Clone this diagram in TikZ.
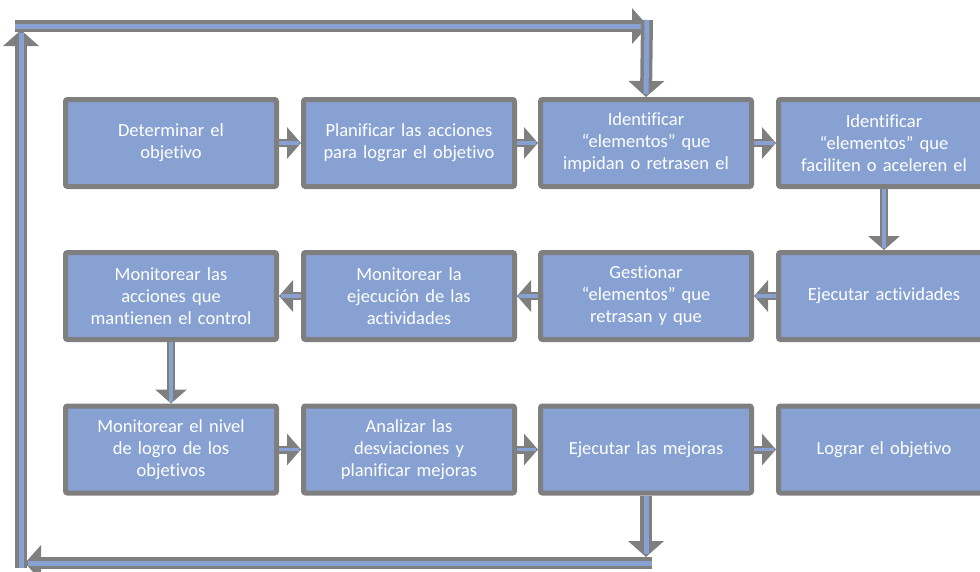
\documentclass[tikz,border=0pt]{standalone}
\usepackage{fontspec}
\setmainfont[Ligatures=NoCommon]{Carlito}
\usetikzlibrary{arrows.meta}
\definecolor{boxblue}{RGB}{135,161,211}
\definecolor{edgegray}{RGB}{127,127,127}
\tikzset{
  stage/.style={draw=edgegray, fill=boxblue, line width=5pt, rounded corners=2pt,
    minimum width=211pt, minimum height=87pt, text width=200pt, align=center,
    text=white, font=\fontsize{18.5}{22}\selectfont, inner sep=0pt},
  linkout/.style={draw=edgegray, line width=8pt, -{Triangle[width=31pt,length=14pt]}},
  linkin/.style={draw=boxblue, line width=3.5pt, shorten >=2pt},
  loopout/.style={draw=edgegray, line width=12pt, -{Triangle[width=35pt,length=16pt]}},
  loopin/.style={draw=boxblue, line width=5pt, shorten >=3pt}
}
\begin{document}
\begin{tikzpicture}[x=1pt,y=-1pt]
\useasboundingbox (0,0) rectangle (980,571);
\clip (0,0) rectangle (980,571);

% first row: planning
\node[stage] (r1a) at (171,143) {Determinar el\\objetivo};
\node[stage] (r1b) at (409,143) {Planificar las acciones\\para lograr el objetivo};
\node[stage] (r1c) at (646,143) {Identificar\\“elementos” que\\impidan o retrasen el};
\node[stage] (r1d) at (884,143) {Identificar\\“elementos” que\\faciliten o aceleren el};

% second row: execution and monitoring
\node[stage] (r2a) at (171,296) {Monitorear las\\acciones que\\mantienen el control};
\node[stage] (r2b) at (409,296) {Monitorear la\\ejecución de las\\actividades};
\node[stage] (r2c) at (646,296) {Gestionar\\“elementos” que\\retrasan y que};
\node[stage] (r2d) at (884,296) {Ejecutar actividades};

% third row: evaluation and improvement
\node[stage] (r3a) at (171,449.5) {Monitorear el nivel\\de logro de los\\objetivos};
\node[stage] (r3b) at (409,449.5) {Analizar las\\desviaciones y\\planificar mejoras};
\node[stage] (r3c) at (646,449.5) {Ejecutar las mejoras};
\node[stage] (r3d) at (884,449.5) {Lograr el objetivo};

% links between neighbouring stages
\foreach \s/\t in {r1a.east/r1b.west, r1b.east/r1c.west, r1c.east/r1d.west,
                   r1d.south/r2d.north, r2d.west/r2c.east, r2c.west/r2b.east,
                   r2b.west/r2a.east, r2a.south/r3a.north,
                   r3a.east/r3b.west, r3b.east/r3c.west, r3c.east/r3d.west} {
  \draw[linkout] (\s) -- (\t);
  \draw[linkin] (\s) -- (\t);
}

% feedback loop back to the identification stage
\coordinate (downEnd) at (646,557);
\coordinate (bottomStart) at (652,563);
\coordinate (bottomEnd) at (25,563);
\coordinate (leftStart) at (21,568);
\coordinate (leftEnd) at (21,30);
\coordinate (topStart) at (15,26);
\coordinate (topEnd) at (648,26);
\coordinate (dropStart) at (647,20);

\foreach \s/\t in {r3c.south/downEnd, bottomStart/bottomEnd, leftStart/leftEnd,
                   topStart/topEnd, dropStart/r1c.north} {
  \draw[loopout] (\s) -- (\t);
  \draw[loopin] (\s) -- (\t);
}
\end{tikzpicture}
\end{document}
